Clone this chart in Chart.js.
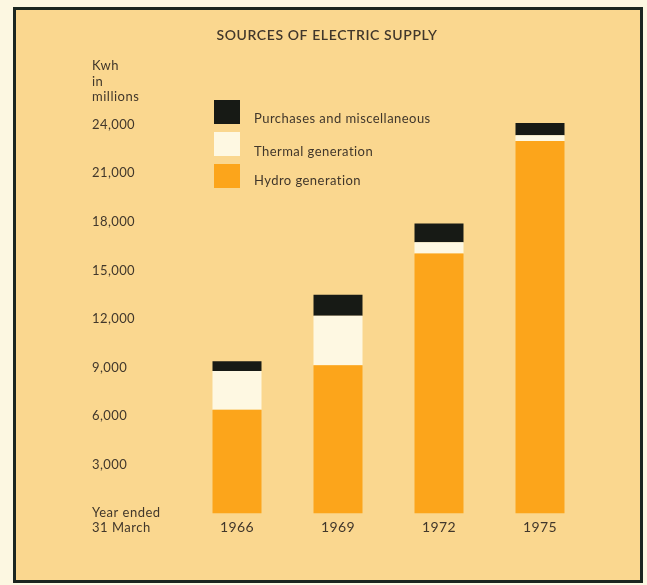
<!DOCTYPE html>
<html>
<head>
<meta charset="utf-8">
<title>Sources of Electric Supply</title>
<script src="https://cdn.jsdelivr.net/npm/chart.js@4/dist/chart.umd.min.js"></script>
<style>
  html, body { margin: 0; padding: 0; background: #fcf7e1; }
  #wrap { position: relative; width: 647px; height: 585px; }
  canvas { display: block; }
</style>
</head>
<body>
<div id="wrap"><canvas id="c" width="647" height="585"></canvas></div>
<script>
// Electricity supplied, years ended 31 March (Kwh in millions)
const categories = ['1966', '1969', '1972', '1975'];
const hydro      = [6400, 9150, 16050, 23000];
const thermal    = [2400, 3050, 700, 350];
const purchases  = [600, 1300, 1150, 750];
const yTickValues = [3000, 6000, 9000, 12000, 15000, 18000, 21000, 24000];

const FONT = 'Lato, "Open Sans", sans-serif';
const INK = '#41372b';
const PANEL = '#fad78f';
const FRAME = '#1b2620';

// Panel, frame, title, axis captions and the legend key
const decor = {
  id: 'decor',
  beforeDraw(chart) {
    const ctx = chart.ctx;
    ctx.save();
    ctx.fillStyle = '#fcf7e1';
    ctx.fillRect(0, 0, chart.width, chart.height);
    ctx.fillStyle = PANEL;
    ctx.fillRect(14, 8, 628, 574);
    ctx.lineWidth = 3;
    ctx.strokeStyle = FRAME;
    ctx.strokeRect(14.5, 8.5, 627, 573);
    ctx.restore();
    // slightly open lettering for all chart text, axis ticks included
    ctx.letterSpacing = '0.4px';
  },
  afterDraw(chart) {
    const ctx = chart.ctx;
    ctx.save();
    ctx.fillStyle = INK;
    ctx.textBaseline = 'middle';

    ctx.letterSpacing = '0.6px';
    ctx.font = '600 14px ' + FONT;
    ctx.textAlign = 'center';
    ctx.fillText('SOURCES OF ELECTRIC SUPPLY', 327, 35);

    ctx.letterSpacing = '0.5px';
    ctx.font = '13px ' + FONT;
    ctx.textAlign = 'left';
    ['Kwh', 'in', 'millions'].forEach((t, i) => ctx.fillText(t, 92, 66 + i * 15.5));
    ctx.fillText('Year ended', 92, 513);
    ctx.fillText('31 March', 92, 527.5);

    // legend key, top entry first
    const ds = chart.data.datasets;
    const order = [2, 1, 0];
    const boxTop = [100, 132, 164];
    const textY = [119, 151.5, 180.5];
    ctx.letterSpacing = '0.45px';
    ctx.font = '13px ' + FONT;
    order.forEach((di, i) => {
      ctx.fillStyle = ds[di].backgroundColor;
      ctx.fillRect(214, boxTop[i], 26, 24);
      ctx.fillStyle = INK;
      ctx.fillText(ds[di].label, 254, textY[i]);
    });
    ctx.restore();
  }
};

new Chart(document.getElementById('c'), {
  type: 'bar',
  data: {
    labels: categories,
    datasets: [
      { label: 'Hydro generation', data: hydro, backgroundColor: '#fca51b' },
      { label: 'Thermal generation', data: thermal, backgroundColor: '#fef8e2' },
      { label: 'Purchases and miscellaneous', data: purchases, backgroundColor: '#171a15' }
    ]
  },
  options: {
    responsive: false,
    devicePixelRatio: 1,
    animation: false,
    layout: { padding: { left: 92, right: 56.5, top: 108.5, bottom: 0 } },
    datasets: { bar: { barPercentage: 1, categoryPercentage: 0.485, borderWidth: 0 } },
    plugins: {
      legend: { display: false },
      title: { display: false },
      tooltip: { enabled: false }
    },
    scales: {
      x: {
        stacked: true,
        border: { display: false },
        grid: { display: false, drawTicks: false },
        ticks: { color: INK, font: { family: FONT, size: 14 }, padding: 6, maxRotation: 0 },
        afterFit(s) { s.height = 71.5; }
      },
      y: {
        stacked: true,
        min: 0,
        max: 25000,
        border: { display: false },
        grid: { display: false, drawTicks: false },
        afterBuildTicks(s) { s.ticks = yTickValues.map(v => ({ value: v })); },
        ticks: {
          color: INK,
          font: { family: FONT, size: 13 },
          crossAlign: 'far',
          callback: v => v.toLocaleString('en-US')
        },
        afterFit(s) { s.width = 94.5; }
      }
    }
  },
  plugins: [decor]
});
</script>
</body>
</html>
